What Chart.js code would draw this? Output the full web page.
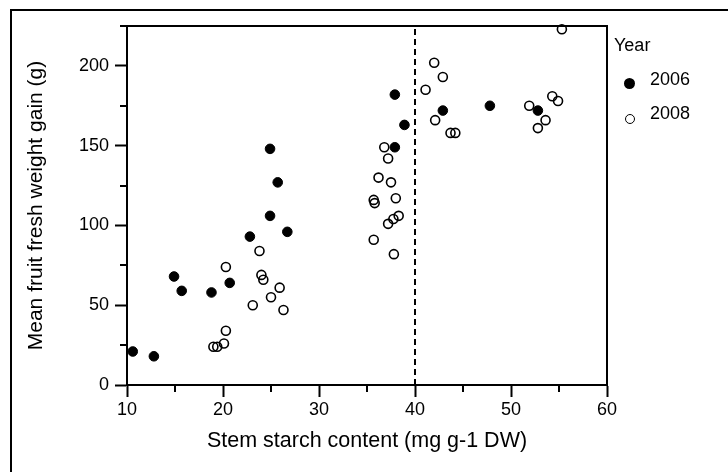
<!DOCTYPE html>
<html>
<head>
<meta charset="utf-8">
<script src="https://cdn.jsdelivr.net/npm/chart.js@4/dist/chart.umd.min.js"></script>
<style>
    body { margin: 0; background: #fff; }
    #wrap { position: relative; width: 728px; height: 472px; overflow: hidden; }
    #frame { position: absolute; left: 10px; top: 9px; width: 730px; height: 480px;
             border-left: 2px solid #000; border-top: 2px solid #000; }
    #legend { position: absolute; left: 614px; top: 35px; font-family: "Liberation Sans", Arial, sans-serif;
              font-size: 18px; color: #000; }
    #legend .row { position: relative; height: 34px; line-height: 20px; }
    #legend .item { padding-left: 36px; }
    #legend .dot { position: absolute; border-radius: 50%; box-sizing: border-box; }
</style>
</head>
<body>
<div id="wrap">
    <div id="frame"></div>
    <canvas id="chart" width="728" height="472"></canvas>
    <div id="legend">
        <div class="row">Year</div>
        <div class="row item"><span class="dot" style="background:#000;left:10px;top:9px;width:11px;height:11px"></span>2006</div>
        <div class="row item"><span class="dot" style="border:1.5px solid #000;left:11px;top:11px;width:10px;height:10px"></span>2008</div>
    </div>
</div>
<script>
// stem starch content (x) vs mean fruit fresh weight gain (y)
const x2006 = [10.6, 12.8, 14.9, 15.7, 18.8, 20.7, 22.8, 24.9, 26.7, 25.7, 24.9, 37.9, 38.9, 37.9, 42.9, 47.8, 52.8];
const y2006 = [21, 18, 68, 59, 58, 64, 93, 106, 96, 127, 148, 182, 163, 149, 172, 175, 172];

const x2008 = [19.0, 19.4, 20.1, 20.3, 20.3, 23.1, 23.8, 24.0, 24.2, 25.0, 25.9, 26.3,
               35.7, 35.8, 35.7, 36.2, 36.8, 37.2, 37.5, 37.2, 37.75, 38.3, 38.0, 37.8,
               41.1, 42.0, 42.9, 42.1, 43.7, 44.2, 51.9, 52.8, 53.6, 54.3, 54.9, 55.3];
const y2008 = [24, 24, 26, 34, 74, 50, 84, 69, 66, 55, 61, 47,
               116, 114, 91, 130, 149, 142, 127, 101, 104, 106, 117, 82,
               185, 202, 193, 166, 158, 158, 175, 161, 166, 181, 178, 223];

const cutoffX = 40;
const xTicks = [10, 20, 30, 40, 50, 60];
const xMinor = [15, 25, 35, 45, 55];
const yTicks = [0, 50, 100, 150, 200];
const yMinor = [25, 75, 125, 175];

const toPoints = (xs, ys) => xs.map((x, i) => ({ x: x, y: ys[i] }));
const family = '"Liberation Sans", Arial, sans-serif';
const font = { family: family, size: 18 };

// minor ticks + top/right box of the plot area
const framePlugin = {
    id: 'frame',
    afterDraw(chart) {
        const { ctx, chartArea: a, scales: { x, y } } = chart;
        ctx.save();
        ctx.strokeStyle = '#000';
        ctx.lineWidth = 2;
        ctx.beginPath();
        ctx.moveTo(a.left - 7, a.top);
        ctx.lineTo(a.right, a.top);
        ctx.lineTo(a.right, a.bottom);
        xMinor.forEach(v => {
            const px = Math.round(x.getPixelForValue(v));
            ctx.moveTo(px, a.bottom);
            ctx.lineTo(px, a.bottom + 7);
        });
        yMinor.forEach(v => {
            const py = Math.round(y.getPixelForValue(v));
            ctx.moveTo(a.left, py);
            ctx.lineTo(a.left - 7, py);
        });
        ctx.stroke();
        ctx.restore();
    }
};

new Chart(document.getElementById('chart'), {
    type: 'scatter',
    data: {
        datasets: [{
            label: '2006',
            data: toPoints(x2006, y2006),
            pointRadius: 4.8,
            backgroundColor: '#000',
            borderColor: '#000',
            borderWidth: 1,
            clip: false
        }, {
            label: '2008',
            data: toPoints(x2008, y2008),
            pointRadius: 4.5,
            backgroundColor: 'rgba(0,0,0,0)',
            borderColor: '#000',
            borderWidth: 1.6,
            clip: false
        }, {
            type: 'line',
            label: 'cutoff',
            data: [{ x: cutoffX, y: 0 }, { x: cutoffX, y: 225 }],
            borderColor: '#000',
            borderWidth: 2,
            borderDash: [6, 4],
            pointRadius: 0,
            fill: false
        }]
    },
    options: {
        responsive: false,
        animation: false,
        layout: { padding: { left: 0, top: 26, right: 121, bottom: 0 } },
        plugins: {
            legend: { display: false },
            tooltip: { enabled: false }
        },
        scales: {
            x: {
                type: 'linear',
                min: 10,
                max: 60,
                afterFit: s => { s.height = 87; },
                afterBuildTicks: s => { s.ticks = xTicks.map(v => ({ value: v })); },
                ticks: { font: font, color: '#000', padding: 2, maxRotation: 0 },
                grid: { drawOnChartArea: false, tickLength: 12, tickWidth: 2, tickColor: '#000' },
                border: { color: '#000', width: 2 },
                title: {
                    display: true,
                    text: 'Stem starch content (mg g-1 DW)',
                    font: { family: family, size: 21.5 },
                    color: '#000',
                    padding: { top: 0, bottom: 18 }
                }
            },
            y: {
                min: 0,
                max: 225,
                afterFit: s => { s.width = 127; },
                afterBuildTicks: s => { s.ticks = yTicks.map(v => ({ value: v })); },
                ticks: { font: font, color: '#000', padding: 6 },
                grid: { drawOnChartArea: false, tickLength: 12, tickWidth: 2, tickColor: '#000' },
                border: { color: '#000', width: 2 },
                title: {
                    display: true,
                    text: 'Mean fruit fresh weight gain (g)',
                    font: { family: family, size: 21 },
                    color: '#000',
                    padding: { top: 24, bottom: 0 }
                }
            }
        }
    },
    plugins: [framePlugin]
});
</script>
</body>
</html>
